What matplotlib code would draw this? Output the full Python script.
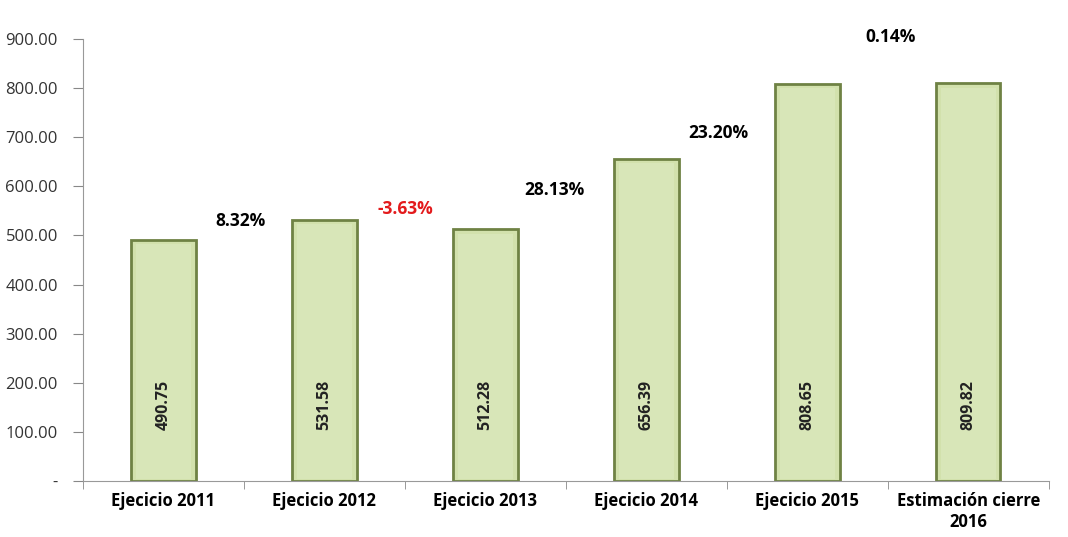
import matplotlib
matplotlib.use("Agg")
import matplotlib.pyplot as plt
from matplotlib.ticker import FuncFormatter

categories = ["Ejecicio 2011", "Ejecicio 2012", "Ejecicio 2013", "Ejecicio 2014",
              "Ejecicio 2015", "Estimación cierre\n2016"]
values = [490.75, 531.58, 512.28, 656.39, 808.65, 809.82]
pct_labels = ["8.32%", "-3.63%", "28.13%", "23.20%", "0.14%"]
pct_heights = [530, 554, 593, 709, 904]
pct_colors = ["black", "#e31a1c", "black", "black", "black"]

plt.rcParams['font.family'] = ['Open Sans', 'DejaVu Sans']

fig = plt.figure(figsize=(10.68, 5.37), dpi=100)
ax = fig.add_axes([0.0777, 0.1043, 0.9043, 0.8231])

x = list(range(len(categories)))
ax.bar(x, values, width=0.40, color="#d2e1ac", edgecolor="#6f8244", linewidth=2.0, zorder=2)
# inner highlight for bevel look
ax.bar(x, [v - 14 for v in values], bottom=5, width=0.34, color="#d8e6b8", edgecolor="none", zorder=3)

for xi, v in zip(x, values):
    ax.text(xi, 155, f"{v:.2f}", rotation=90, ha="center", va="center",
            fontsize=11.5, fontweight="bold", color="#222222", zorder=4)

pct_x = [0.5, 1.52, 2.45, 3.47, 4.54]
for px, ph, lbl, c in zip(pct_x, pct_heights, pct_labels, pct_colors):
    ax.text(px - 0.02, ph, lbl, ha="center", va="center", fontsize=12.5,
            fontweight="bold", color=c, clip_on=False)

ax.set_xlim(-0.5, len(categories) - 0.5)
ax.set_ylim(0, 900)
ax.set_yticks(range(0, 901, 100))
ax.yaxis.set_major_formatter(FuncFormatter(lambda v, p: "-" if v == 0 else f"{v:.2f}"))
ax.set_xticks(x)
ax.set_xticklabels(categories, fontsize=12, fontweight="bold")
ax.set_xticks([i + 0.5 for i in range(-1, len(categories))], minor=True)
ax.tick_params(axis="x", which="major", length=0, pad=8)
ax.tick_params(axis="x", which="minor", length=6, color="#888888", direction="out")
ax.tick_params(axis="y", length=7, color="#888888", labelsize=12, pad=11)
for lbl in ax.get_yticklabels():
    lbl.set_color("#333333")

for s in ["top", "right"]:
    ax.spines[s].set_visible(False)
for s in ["left", "bottom"]:
    ax.spines[s].set_color("#999999")

fig.savefig("out.png", dpi=100)
